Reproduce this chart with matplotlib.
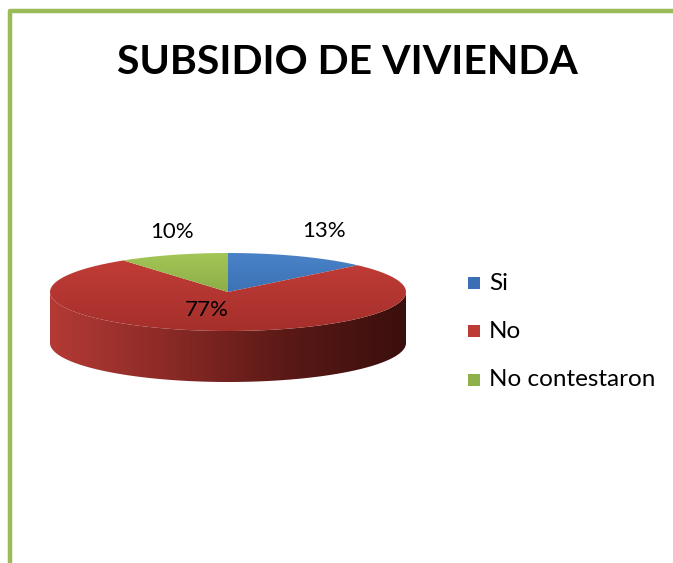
import numpy as np
import matplotlib.pyplot as plt
from matplotlib.patches import Polygon, Rectangle
from matplotlib.colors import LinearSegmentedColormap

# Data
categories = ['Si', 'No', 'No contestaron']
values = [13, 77, 10]
title = 'SUBSIDIO DE VIVIENDA'

# colours (top light, top dark) per slice
top_light = ['#4a82c8', '#c43d38', '#a3c656']
top_dark = ['#2f63a3', '#a52f2b', '#76953a']
legend_cols = ['#3a6fb5', '#bd3a35', '#8db04a']

fig = plt.figure(figsize=(6.73, 5.63), dpi=100)
ax = fig.add_axes([0, 0, 1, 1])
ax.set_xlim(0, 673)
ax.set_ylim(563, 0)
ax.axis('off')

# green frame (left and top)
ax.plot([9.5, 9.5, 673], [563, 10.5, 10.5], color='#9bbb59', lw=3.2, solid_capstyle='butt')

ax.text(347, 62, title, ha='center', va='center', fontsize=29.5,
        fontweight='bold', family='Lato', color='black')

# pie geometry
cx, cy, rx, ry, depth = 228, 292, 178, 39, 51

def ell(t):
    t = np.radians(t)
    return cx + rx * np.cos(t), cy - ry * np.sin(t)

# side (front half, only visible part)
ts = np.linspace(180, 360, 200)
xs, ys = ell(ts)
side = np.concatenate([np.c_[xs, ys], np.c_[xs[::-1], ys[::-1] + depth]])
side_poly = Polygon(side, closed=True, facecolor='none', edgecolor='none')
ax.add_patch(side_poly)
side_cmap = LinearSegmentedColormap.from_list('side', ['#b43a35', '#8a2a26', '#5a1916', '#3a0f0d'])
grad = np.linspace(0, 1, 256).reshape(1, -1)
im = ax.imshow(grad, cmap=side_cmap, extent=[cx - rx, cx + rx, cy + ry + depth, cy - ry],
               aspect='auto', zorder=2)
im.set_clip_path(side_poly)

# top face wedges, clockwise from 12 o'clock
start = 90.0
for i, v in enumerate(values):
    sweep = v / sum(values) * 360
    tt = np.linspace(start, start - sweep, 120)
    wx, wy = ell(tt)
    pts = np.vstack([[cx, cy], np.c_[wx, wy]])
    poly = Polygon(pts, closed=True, facecolor='none', edgecolor='none', zorder=3)
    ax.add_patch(poly)
    cm = LinearSegmentedColormap.from_list('t%d' % i, [top_light[i], top_dark[i]])
    g = np.linspace(0, 1, 256).reshape(-1, 1)
    im2 = ax.imshow(g, cmap=cm, extent=[cx - rx, cx + rx, cy + ry, cy - ry],
                    aspect='auto', zorder=3)
    im2.set_clip_path(poly)
    start -= sweep

# percent labels
label_pos = [(324, 231), (207, 310), (172, 232)]
for v, (lx, ly) in zip(values, label_pos):
    ax.text(lx, ly, f'{v}%', ha='center', va='center', fontsize=16,
            family='Lato', color='black', zorder=5)

# legend
leg_y = [283, 331, 380]
for c, lab, ly in zip(legend_cols, categories, leg_y):
    ax.add_patch(Rectangle((468, ly - 6), 12, 12, facecolor=c, edgecolor='none'))
    ax.text(489, ly, lab, ha='left', va='center', fontsize=17.5,
            family='Lato', color='black')

fig.savefig('out.png', dpi=100)
